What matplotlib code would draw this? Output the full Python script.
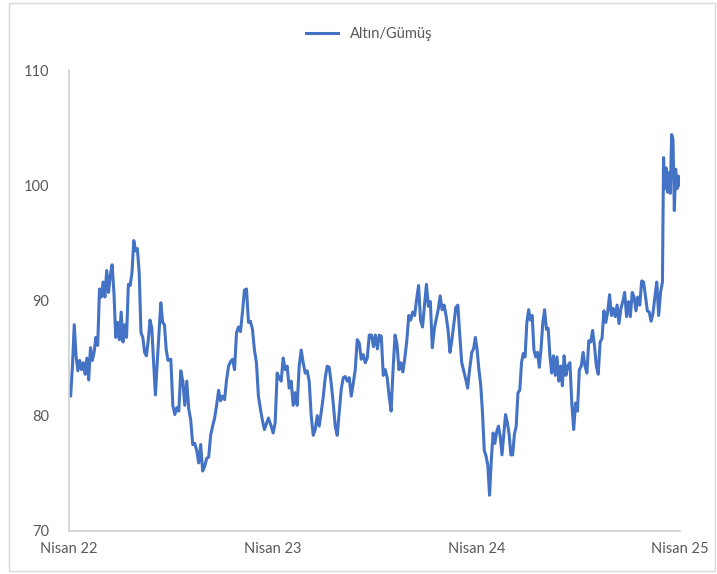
## Gold/silver ratio, Apr 2022 - Apr 2025.

import numpy as np
import pandas as pd
import matplotlib.pyplot as plt
from matplotlib.patches import Rectangle

## values, in stretches with their own date spans
seg1_span = ('2022-04-01', '2022-09-26')
seg1 = [82.5, 81.7, 84.3, 87.9, 85.2, 83.9, 84.8, 84.0, 84.6, 83.6, 85.0, 83.1, 85.9, 84.8,
        85.5, 86.8, 86.1, 91.0, 90.3, 91.6, 90.3, 92.6, 90.7, 92.2, 93.1, 90.7, 86.8, 88.1,
        86.6, 89.0, 86.4, 87.9, 86.8, 91.4, 91.3, 92.4, 95.2, 94.3, 94.5, 92.4, 87.2, 86.8,
        85.5, 85.2, 86.5, 88.3, 87.6, 84.6, 81.8, 84.6, 87.2, 89.8, 88.1, 87.9, 85.7, 84.8]

seg2_span = ('2022-10-01', '2023-03-25')
seg2 = [84.9, 80.9, 80.1, 80.7, 80.4, 83.9, 83.0, 80.9, 83.0, 80.6, 79.6, 77.5, 77.6, 77.0,
        75.9, 77.5, 75.2, 75.6, 76.3, 76.4, 78.3, 79.1, 79.8, 80.9, 82.2, 81.3, 81.7, 81.4,
        83.1, 84.3, 84.7, 84.9, 84.0, 87.2, 87.7, 87.3, 89.0, 90.9, 91.0, 88.1, 88.2, 87.5,
        85.7, 84.6, 81.7, 80.6, 79.6, 78.8, 79.3, 79.8]

seg3_span = ('2023-03-30', '2023-09-22')
seg3 = [79.1, 78.5, 79.4, 83.7, 83.3, 83.0, 85.0, 84.0, 84.3, 82.4, 83.0, 80.9, 82.0, 80.9,
        84.3, 85.7, 84.6, 83.7, 83.9, 83.0, 80.0, 78.3, 78.8, 80.0, 79.1, 80.3, 81.6, 83.3,
        84.3, 84.2, 82.8, 81.1, 79.1, 78.3, 80.3, 82.3, 83.3, 83.4, 83.0, 83.3, 81.7, 82.8,
        84.0, 86.6, 86.3, 84.9, 85.3, 84.6, 85.0, 87.0]

seg4_span = ('2023-09-26', '2024-03-20')
seg4 = [87.0, 86.0, 87.0, 85.8, 87.0, 86.9, 83.5, 84.0, 83.3, 81.7, 80.4, 84.0, 87.0, 86.2,
        84.0, 84.6, 83.8, 85.0, 86.5, 88.7, 88.3, 89.0, 88.7, 90.1, 91.3, 88.3, 87.7, 89.6,
        91.4, 89.5, 89.9, 85.9, 87.5, 88.4, 89.2, 90.4, 89.2, 89.6, 88.7, 87.5, 85.5, 86.6,
        88.0, 89.4, 89.6, 87.0, 84.6, 83.9, 83.2, 82.4, 84.0]

seg5_span = ('2024-03-24', '2024-09-12')
seg5 = [85.5, 85.8, 86.8, 85.7, 84.0, 82.7, 80.3, 77.0, 76.5, 75.7, 73.1, 76.2, 78.5, 77.6,
        78.6, 79.1, 78.2, 76.6, 78.4, 80.1, 79.4, 78.4, 76.6, 76.6, 78.4, 79.1, 82.0, 82.2,
        84.6, 85.4, 85.1, 88.1, 89.2, 88.3, 88.7, 85.7, 85.1, 85.5, 84.2, 85.8, 88.1, 89.2,
        87.5, 87.6, 85.2, 83.7, 85.2, 83.5, 85.1, 83.0, 84.3, 82.6, 85.2, 83.5, 84.3]

seg6_span = ('2024-09-16', '2025-03-01')
seg6 = [84.6, 81.1, 78.8, 81.1, 80.4, 84.0, 84.3, 85.5, 84.3, 83.7, 86.5, 86.4, 87.4, 86.1,
        84.3, 83.6, 86.4, 86.7, 89.1, 88.1, 89.0, 90.5, 88.7, 89.3, 88.6, 89.6, 88.0, 89.3,
        89.9, 90.7, 88.6, 89.9, 88.6, 90.7, 90.3, 89.1, 90.3, 89.6, 91.7, 91.6, 90.4, 89.1,
        89.0, 88.2, 88.9, 90.3, 91.6, 88.7, 90.7, 91.6]

seg7_span = ('2025-03-03', '2025-04-01')
seg7 = [102.4, 99.7, 101.5, 99.4, 101.1, 99.3, 104.4, 104.0, 97.8, 101.4, 99.7, 100.8, 100.0]

tick_dates = ['2022-04-01', '2023-04-01', '2024-04-01', '2025-04-01']
tick_labels = ['Nisan 22', 'Nisan 23', 'Nisan 24', 'Nisan 25']
y_ticks = [70, 80, 90, 100, 110]
series_name = 'Altın/Gümüş'

segs = [(seg1_span, seg1), (seg2_span, seg2), (seg3_span, seg3), (seg4_span, seg4),
        (seg5_span, seg5), (seg6_span, seg6), (seg7_span, seg7)]
dates = []
vals = []
for span, v in segs:
  dates.extend(pd.date_range(span[0], span[1], periods=len(v)))
  vals.extend(v)
s = pd.Series(vals, index=pd.DatetimeIndex(dates))

plt.rcParams['font.family'] = ['Lato', 'DejaVu Sans']

fig = plt.figure(figsize=(7.17, 5.74), dpi=100)
ax = fig.add_axes([0.096, 0.075, 0.852, 0.803])

ax.plot(s.index, s.values, color='#4472C4', linewidth=2.2, label=series_name,
        solid_joinstyle='round')

ax.set_xlim(pd.Timestamp('2022-04-01'), pd.Timestamp('2025-04-01'))
ax.set_ylim(70, 110)
ax.set_yticks(y_ticks)
ax.set_xticks(pd.to_datetime(tick_dates))
ax.set_xticklabels(tick_labels)
ax.tick_params(length=0, labelsize=10.5, labelcolor='#595959')
ax.tick_params(axis='y', pad=14)
ax.tick_params(axis='x', pad=8)

for side in ['top', 'right']:
  ax.spines[side].set_visible(False)
for side in ['left', 'bottom']:
  ax.spines[side].set_color('#d0d0d0')
  ax.spines[side].set_linewidth(1.2)

fig.legend(loc='upper center', bbox_to_anchor=(0.515, 0.975), frameon=False,
           fontsize=10.5, handlelength=2.2, labelcolor='#595959')

fig.patches.append(Rectangle((0.012, 0.006), 0.985, 0.988, transform=fig.transFigure,
                             fill=False, edgecolor='#d9d9d9', linewidth=1.0))

plt.savefig('out.png', dpi=100)
